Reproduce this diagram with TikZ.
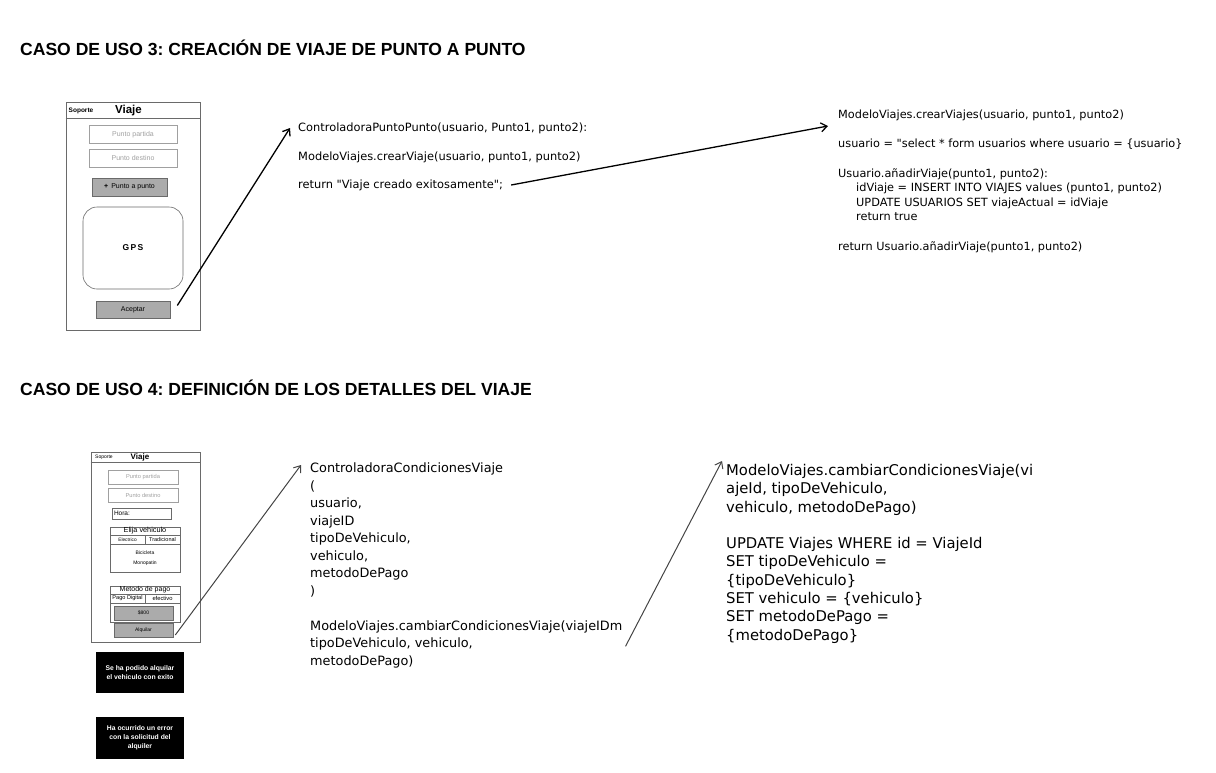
\documentclass[tikz,border=0pt]{standalone}
\usepackage{fontspec}
\setmainfont{Liberation Sans}
\newfontfamily\codefont{DejaVu Sans}
\usetikzlibrary{positioning,arrows.meta}
\frenchspacing

\definecolor{btngray}{HTML}{ABABAB}
\definecolor{framegray}{HTML}{6A6A6A}
\definecolor{hintgray}{HTML}{A0A0A0}
\definecolor{arrowgray}{HTML}{444444}

\newcommand{\fs}[1]{\fontsize{#1}{#1}\selectfont}

\tikzset{
    screen/.style={draw=framegray, line width=0.8pt, inner sep=0pt},
    field/.style={draw=hintgray, line width=0.6pt, inner sep=0pt, text=hintgray},
    button/.style={draw=framegray, line width=0.6pt, fill=btngray, inner sep=0pt},
    panel/.style={draw=framegray, line width=0.6pt, inner sep=0pt},
    toast/.style={fill=black, text=white, align=center, inner sep=0pt},
    title/.style={anchor=west, inner sep=0pt, font=\fs{17.55}\bfseries},
    code/.style={anchor=north west, inner sep=0pt, align=left},
    arr/.style={-{Straight Barb[length=6pt,width=9pt]}, line width=1.3pt},
    arrb/.style={arr, draw=arrowgray, line width=1pt}
}

\begin{document}
\begin{tikzpicture}[x=1pt, y=-1pt]
    % Page frame
    \useasboundingbox (0,0) rectangle (1216,772);

    % Titles
    \node[title] (titleA) at (20,48) {CASO DE USO 3: CREACIÓN DE VIAJE DE PUNTO A PUNTO};
    \node[title] (titleB) at (20,388) {CASO DE USO 4: DEFINICIÓN DE LOS DETALLES DEL VIAJE};

    % ---- Case 3: mockup
    \node[screen, minimum width=134, minimum height=228] (screenA) at (133,216) {};
    \draw[screen] ([yshift=-17pt]screenA.north west) -- ([yshift=-17pt]screenA.north east);
    \node[font=\fs{6.5}\bfseries] (soporteA) at (81,111) {Soporte};
    \node[font=\fs{11.5}\bfseries] (viajeA) at (128.5,111) {Viaje};
    \node[field, minimum width=88, minimum height=18, font=\fs{7}] (partidaA) at (133,134.5) {Punto partida};
    \node[field, minimum width=88, minimum height=18, font=\fs{7}] (destinoA) at (133,158) {Punto destino};
    \node[button, minimum width=75, minimum height=18, font=\fs{7}] (puntoA) at (129.5,187) {\textbf{+}\, Punto a punto};
    \node[panel, rounded corners=14pt, minimum width=100, minimum height=82, font=\fs{8.5}\bfseries] (gpsA) at (133,248) {G\,P\,S};
    \node[button, minimum width=74, minimum height=17, font=\fs{7}] (aceptarA) at (133,309.5) {Aceptar};

    % ---- Case 3: code
    \node[anchor=west, inner sep=0pt, font=\codefont\fs{11.4}] (ctrlA) at (298,128) {ControladoraPuntoPunto(usuario, Punto1, punto2):};
    \node[anchor=west, inner sep=0pt, font=\codefont\fs{11.4}] (modeloA) at (298,157) {ModeloViajes.crearViaje(usuario, punto1, punto2)};
    \node[anchor=west, inner sep=0pt, font=\codefont\fs{11.4}] (retA) at (298,185) {return "Viaje creado exitosamente";};
    \node[code, font=\codefont\fontsize{11.3}{14.6}\selectfont] (modelB) at (838,110) {%
        ModeloViajes.crearViajes(usuario, punto1, punto2)\\[14.6pt]
        usuario = "select * form usuarios where usuario = \{usuario\}\\[14.6pt]
        Usuario.añadirViaje(punto1, punto2):\\
        \hspace*{18pt}idViaje = INSERT INTO VIAJES values (punto1, punto2)\\
        \hspace*{18pt}UPDATE USUARIOS SET viajeActual = idViaje\\
        \hspace*{18pt}return true\\[14.6pt]
        return Usuario.añadirViaje(punto1, punto2)};

    % Arrows of case 3
    \draw[arr] ([xshift=7pt,yshift=4pt]aceptarA.east) -- ([xshift=-8pt]ctrlA.west);
    \draw[arr] ([xshift=8pt]retA.east) -- ([xshift=-10pt,yshift=-16pt]modelB.north west);

    % ---- Case 4: mockup
    \node[screen, minimum width=109, minimum height=190] (screenB) at (145.5,547) {};
    \draw[screen] ([yshift=-11pt]screenB.north west) -- ([yshift=-11pt]screenB.north east);
    \node[font=\fs{5}] (soporteB) at (104,457) {Soporte};
    \node[font=\fs{8}\bfseries] (viajeB) at (140,457) {Viaje};
    \node[field, minimum width=70, minimum height=14, font=\fs{5.7}] (partidaB) at (143,477) {Punto partida};
    \node[field, minimum width=70, minimum height=14, font=\fs{5.7}] (destinoB) at (143,495) {Punto destino};
    \node[panel, minimum width=59, minimum height=11, font=\fs{6.5}, text width=55, align=left] (horaB) at (141.5,513.5) {Hora:};

    % vehicle choice
    \node[panel, minimum width=70, minimum height=45] (vehiculoB) at (145,549.5) {};
    \draw[panel] (110,535) -- (180,535) (110,544) -- (180,544) (145,535) -- (145,544);
    \node[font=\fs{7.3}] (elijaB) at (145,531) {Elija vehiculo};
    \node[font=\fs{4.8}] (electricoB) at (127.5,539.5) {Electrico};
    \node[font=\fs{5.5}] (tradicionalB) at (162.5,539.5) {Tradicional};
    \node[font=\fs{5}] (biciB) at (145,553) {Bicicleta};
    \node[font=\fs{5}] (monoB) at (145,563) {Monopatin};

    % payment
    \node[panel, minimum width=70, minimum height=36] (pagoB) at (145,604) {};
    \draw[panel] (110,594) -- (180,594) (110,603) -- (180,603) (145,594) -- (145,603);
    \node[font=\fs{7}] (metodoB) at (145,590) {Metodo de pago};
    \node[font=\fs{5.6}] (digitalB) at (127.5,598.5) {Pago Digital};
    \node[font=\fs{5.8}] (efectivoB) at (162.5,598.5) {efectivo};
    \node[button, minimum width=59, minimum height=14, font=\fs{5}] (precioB) at (143.5,613) {\$800};
    \node[button, minimum width=59, minimum height=14, font=\fs{5}] (alquilarB) at (143.5,630) {Alquilar};

    % messages
    \node[toast, minimum width=88, minimum height=41, font=\fontsize{6.8}{9.6}\selectfont\bfseries] (exitoB) at (140,672.5) {Se ha podido alquilar\\el vehiculo con exito};
    \node[toast, minimum width=88, minimum height=42, font=\fontsize{6.8}{9}\selectfont\bfseries] (errorB) at (140,738) {Ha ocurrido un error\\con la solicitud del\\alquiler};

    % ---- Case 4: code
    \node[code, font=\codefont\fontsize{12.85}{17.5}\selectfont] (ctrlC) at (310,463) {%
        ControladoraCondicionesViaje\\
        (\\
        usuario,\\
        viajeID\\
        tipoDeVehiculo,\\
        vehiculo,\\
        metodoDePago\\
        )\\[17.5pt]
        ModeloViajes.cambiarCondicionesViaje(viajeIDm\\
        tipoDeVehiculo, vehiculo,\\
        metodoDePago)};
    \node[code, font=\codefont\fontsize{14.8}{18.3}\selectfont] (modelD) at (726,464) {%
        ModeloViajes.cambiarCondicionesViaje(vi\\
        ajeId, tipoDeVehiculo,\\
        vehiculo, metodoDePago)\\[18.3pt]
        UPDATE Viajes WHERE id = ViajeId\\
        SET tipoDeVehiculo =\\
        \{tipoDeVehiculo\}\\
        SET vehiculo = \{vehiculo\}\\
        SET metodoDePago =\\
        \{metodoDePago\}};

    % Arrows of case 4
    \draw[arrb] ([xshift=2pt,yshift=-5pt]alquilarB.east) -- ([xshift=-9pt,yshift=-2pt]ctrlC.north west);
    \draw[arrb] ([xshift=3pt,yshift=22pt]ctrlC.south east) -- ([xshift=-4pt,yshift=3pt]modelD.north west);
\end{tikzpicture}
\end{document}
